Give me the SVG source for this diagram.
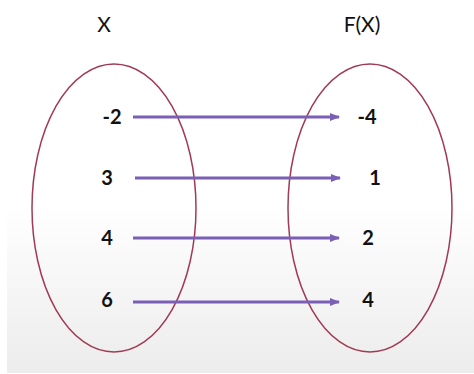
<svg xmlns="http://www.w3.org/2000/svg" width="474" height="374" viewBox="0 0 474 374">
<defs>
<linearGradient id="bg" x1="0" y1="0" x2="0" y2="1">
<stop offset="0" stop-color="#ffffff"/>
<stop offset="0.55" stop-color="#ffffff"/>
<stop offset="1" stop-color="#ececec"/>
</linearGradient>
<marker id="ah" markerWidth="10" markerHeight="8" refX="9" refY="4" orient="auto" markerUnits="userSpaceOnUse">
<path d="M0,0 L10,4 L0,8 Z" fill="#7b5fb5"/>
</marker>
<style>
.set{fill:none;stroke:#a23a55;stroke-width:1.5}
.ttl{font-family:Lato,"Liberation Sans",sans-serif;font-size:21px;fill:#111}
.num{font-family:Lato,"Liberation Sans",sans-serif;font-size:20px;font-weight:bold;fill:#111}
.arr{stroke:#7b5fb5;stroke-width:3;fill:none;marker-end:url(#ah)}
</style>
</defs>
<rect x="0" y="0" width="474" height="374" fill="#ffffff"/>
<rect x="7" y="0" width="467" height="373" fill="url(#bg)"/>
<g id="title-x"><text class="ttl" x="104" y="32" text-anchor="middle">X</text></g>
<g id="title-fx"><text class="ttl" x="362" y="32" text-anchor="middle">F(X)</text></g>
<g id="domain"><ellipse class="set" cx="114" cy="208" rx="82" ry="144"/></g>
<g id="codomain"><ellipse class="set" cx="370" cy="208" rx="82" ry="144"/></g>
<g id="connectors">
<line class="arr" x1="133" y1="117" x2="339" y2="117"/>
<line class="arr" x1="135" y1="178" x2="340" y2="178"/>
<line class="arr" x1="133" y1="238" x2="339" y2="238"/>
<line class="arr" x1="133" y1="302" x2="339" y2="302"/>
</g>
<g id="d-m2"><text class="num" x="112" y="124" text-anchor="middle">-2</text></g>
<g id="d-3"><text class="num" x="107" y="185" text-anchor="middle">3</text></g>
<g id="d-4"><text class="num" x="107" y="245" text-anchor="middle">4</text></g>
<g id="d-6"><text class="num" x="107" y="307" text-anchor="middle">6</text></g>
<g id="c-m4"><text class="num" x="367" y="124" text-anchor="middle">-4</text></g>
<g id="c-1"><text class="num" x="375" y="185" text-anchor="middle">1</text></g>
<g id="c-2"><text class="num" x="368" y="245" text-anchor="middle">2</text></g>
<g id="c-4"><text class="num" x="368" y="307" text-anchor="middle">4</text></g>
</svg>
